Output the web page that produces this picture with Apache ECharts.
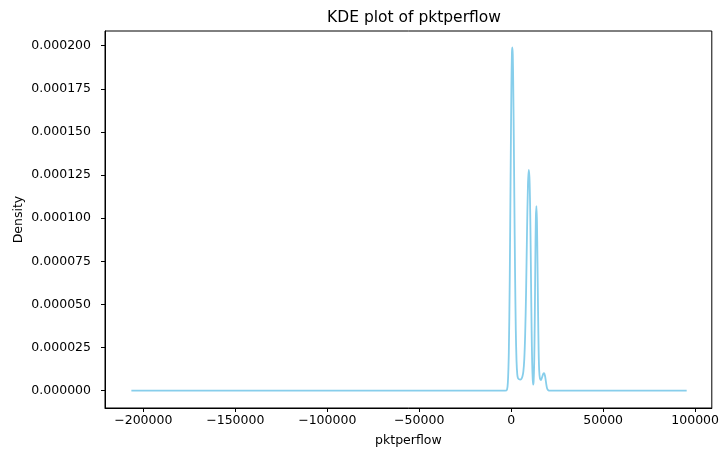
<!DOCTYPE html>
<html>
<head>
<meta charset="utf-8">
<script src="https://cdn.jsdelivr.net/npm/echarts@6/dist/echarts.min.js"></script>
<style>
html,body{margin:0;padding:0;background:#fff;}
#chart{width:722px;height:452px;}
</style>
</head>
<body>
<div id="chart"></div>
<script>
// KDE curve sample points
const xValues = [
  -206500, -180000, -150000, -131000, -110000, -80000, -50000, -20000, -6000, -3300,
  -2300, -1800, -1300, -800, -300, 100, 400, 600, 850, 1100,
  1400, 1700, 2100, 2500, 2900, 3300, 3700, 4300, 4900, 5500,
  6100, 6600, 7100, 7600, 8100, 8600, 9100, 9550, 9900, 10200,
  10500, 10800, 11100, 11400, 11700, 11950, 12200, 12500, 12800, 13100,
  13400, 13700, 14000, 14300, 14600, 14900, 15200, 15600, 16200, 16800,
  17400, 17900, 18400, 18900, 19400, 19900, 20500, 21700, 40000, 70000,
  95400
];
const densityValues = [
  0, 0, 0, 0, 0, 0, 0, 0, 0, 0,
  0.0000006, 0.000005, 0.000022, 0.000064, 0.000128, 0.000176, 0.000196, 0.000199, 0.000195, 0.000178,
  0.000148, 0.000112, 0.000068, 0.000035, 0.000017, 0.0000095, 0.0000072, 0.0000066, 0.0000064, 0.0000068,
  0.0000082, 0.000011, 0.000018, 0.000033, 0.000058, 0.000092, 0.000119, 0.000128, 0.000124, 0.000112,
  0.000090, 0.000062, 0.000035, 0.000016, 0.0000065, 0.0000035, 0.0000055, 0.000016, 0.000040, 0.000074,
  0.000100, 0.000107, 0.000098, 0.000074, 0.000046, 0.000024, 0.000012, 0.0000072, 0.0000062, 0.0000078,
  0.0000098, 0.0000101, 0.0000085, 0.000005, 0.0000018, 0.0000005, 0.0000001, 0, 0, 0,
  0
];
const xTicks = [-200000, -150000, -100000, -50000, 0, 50000, 100000];
const yTicks = [0, 0.000025, 0.00005, 0.000075, 0.0001, 0.000125, 0.00015, 0.000175, 0.0002];

const points = xValues.map((x, i) => [x, densityValues[i]]);
const font = 'DejaVu Sans';
const chart = echarts.init(document.getElementById('chart'), null, {renderer: 'canvas'});
chart.setOption({
  animation: false,
  backgroundColor: '#fff',
  title: {
    text: 'KDE plot of pktperflow',
    left: 409, top: 5, textAlign: 'center',
    textStyle: {fontFamily: font, fontSize: 15.5, fontWeight: 'normal', color: '#000'}
  },
  grid: {left: 105, right: 9, top: 31, bottom: 44, show: true, borderColor: '#000', borderWidth: 1, backgroundColor: 'transparent'},
  xAxis: {
    type: 'value', min: -220836, max: 109062,
    name: 'pktperflow', nameLocation: 'middle', nameGap: 26,
    nameTextStyle: {fontFamily: font, fontSize: 12.5, color: '#000'},
    axisLine: {onZero: false, lineStyle: {color: '#000', width: 1}},
    axisTick: {show: true, length: 4, customValues: xTicks, lineStyle: {color: '#000'}},
    axisLabel: {customValues: xTicks, margin: 6, fontFamily: font, fontSize: 12.5, color: '#000',
      formatter: v => String(v).replace('-', '\u2212')},
    splitLine: {show: false}
  },
  yAxis: {
    type: 'value', min: -0.00001003, max: 0.0002085,
    name: 'Density', nameLocation: 'middle', nameGap: 80, nameMoveOverlap: false,
    nameTextStyle: {fontFamily: font, fontSize: 12.5, color: '#000'},
    axisLine: {show: true, onZero: false, lineStyle: {color: '#000', width: 1}},
    axisTick: {show: true, length: 4, customValues: yTicks, lineStyle: {color: '#000'}},
    axisLabel: {customValues: yTicks, margin: 14, fontFamily: font, fontSize: 12.5, color: '#000',
      formatter: v => v.toFixed(6)},
    splitLine: {show: false}
  },
  series: [{
    type: 'line', data: points, showSymbol: false, smooth: 0.3,
    lineStyle: {color: '#87ceeb', width: 1.8},
    itemStyle: {color: '#87ceeb'}
  }]
});
</script>
</body>
</html>
